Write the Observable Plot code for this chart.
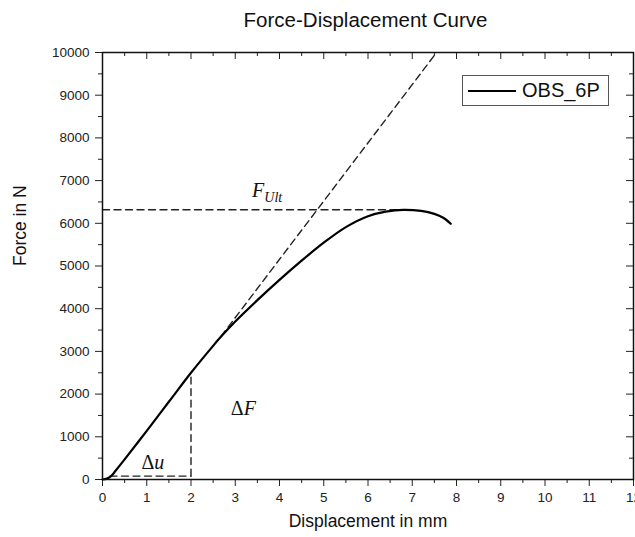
<!DOCTYPE html>
<html>
<head>
<meta charset="utf-8">
<script src="https://cdn.jsdelivr.net/npm/d3@7"></script>
<script src="https://cdn.jsdelivr.net/npm/@observablehq/plot@0.6"></script>
<style>
  html, body { margin: 0; padding: 0; background: #fff; }
  #wrap { position: relative; width: 635px; height: 537px; font-family: "Liberation Sans", Arial, sans-serif; }
  #title { height: 40px; line-height: 40px; padding-left: 100px; width: 531px; text-align: center; font-size: 20.5px; color: #111; }
  #legend { position: absolute; left: 462px; top: 75px; width: 147px; height: 31px; border: 1px solid #555; box-sizing: border-box; display: flex; align-items: center; }
  #legend .ln { width: 48px; height: 0; border-top: 2px solid #000; margin-left: 5px; margin-right: 6px; }
  #legend .tx { font-size: 20px; color: #111; }
</style>
</head>
<body>
<div id="wrap">
  <div id="title">Force-Displacement Curve</div>
  <div id="chart"></div>
  <div id="legend"><div class="ln"></div><div class="tx">OBS_6P</div></div>
</div>
<script>
// Curve data (Displacement in mm, Force in N)
const disp  = [0, 0.1, 0.2, 0.3, 0.5, 1.0, 1.5, 2.0, 2.5, 2.7, 3.0, 3.5, 4.0, 4.5, 5.0, 5.5, 6.0, 6.4, 6.8, 7.2, 7.5, 7.7, 7.87];
const force = [0, 20, 85, 210, 470, 1140, 1820, 2500, 3130, 3370, 3700, 4200, 4675, 5125, 5545, 5910, 6165, 6272, 6316, 6290, 6220, 6130, 5990];

// Construction lines
const tangentX = [2.68, 7.55];
const tangentY = [3354, 10000];
const ultX = [0, 6.8];
const ultY = [6316, 6316];
const duX = [0.17, 2.0];
const duY = [80, 80];
const dfX = [2.0, 2.0];
const dfY = [80, 2500];

// Annotation labels
const labelText = ["ΔF", "Δu", "F_Ult"];
const labelX = [2.9, 0.88, 3.38];
const labelY = [1660, 400, 6760];

// Ticks
const xMajor = [0,1,2,3,4,5,6,7,8,9,10,11,12];
const xMinor = [0.5,1.5,2.5,3.5,4.5,5.5,6.5,7.5,8.5,9.5,10.5,11.5];
const yMajor = [0,1000,2000,3000,4000,5000,6000,7000,8000,9000,10000];
const yMinor = [500,1500,2500,3500,4500,5500,6500,7500,8500,9500];

const xTitle = "Displacement in mm";
const yTitle = "Force in N";

const W = 635, H = 497, mT = 12, mB = 58, mL = 102, mR = 2;
const pH = H - mT - mB, pW = W - mL - mR;

const curve = disp.map((d, i) => ({x: d, y: force[i]}));
const pairs = (xs, ys) => xs.map((d, i) => ({x: d, y: ys[i]}));
const labels = labelText.map((t, i) => ({t, x: labelX[i], y: labelY[i]}));

const dash = {stroke: "#222", strokeWidth: 1.4, strokeDasharray: "7,4.5"};

const plot = Plot.plot({
  width: W, height: H,
  marginTop: mT, marginBottom: mB, marginLeft: mL, marginRight: mR,
  style: {fontFamily: "'Liberation Sans', Arial, sans-serif", color: "#222", background: "#fff", overflow: "visible"},
  x: {domain: [0, 12]},
  y: {domain: [0, 10000]},
  marks: [
    Plot.axisX({ticks: xMajor, tickSize: 7, tickPadding: 6, fontSize: 13.5, label: null, stroke: "#222"}),
    Plot.axisX(xMinor, {tickSize: 4, tickFormat: () => "", label: null, stroke: "#222"}),
    Plot.axisY({ticks: yMajor, tickSize: 7, tickPadding: 6, fontSize: 13.5, label: null, tickFormat: d => String(d), stroke: "#222"}),
    Plot.axisY(yMinor, {tickSize: 4, tickFormat: () => "", label: null, stroke: "#222"}),
    // top and right inward ticks
    Plot.tickX(xMajor, {x: d => d, insetBottom: pH - 7, stroke: "#222"}),
    Plot.tickX(xMinor, {x: d => d, insetBottom: pH - 4, stroke: "#222"}),
    Plot.tickY(yMajor, {y: d => d, insetLeft: pW - 7, stroke: "#222"}),
    Plot.tickY(yMinor, {y: d => d, insetLeft: pW - 4, stroke: "#222"}),
    Plot.line(pairs(tangentX, tangentY), {x: "x", y: "y", ...dash}),
    Plot.line(pairs(ultX, ultY), {x: "x", y: "y", ...dash}),
    Plot.line(pairs(duX, duY), {x: "x", y: "y", ...dash}),
    Plot.line(pairs(dfX, dfY), {x: "x", y: "y", ...dash}),
    Plot.line(curve, {x: "x", y: "y", stroke: "#000", strokeWidth: 2.2, curve: "catmull-rom"}),
    Plot.frame({stroke: "#111", strokeWidth: 1.5}),
    Plot.text(labels, {x: "x", y: "y", text: "t", textAnchor: "start", fontSize: 20, fontFamily: "'Liberation Serif', 'DejaVu Serif', serif", fill: "#111"}),
    Plot.text([xTitle], {text: d => d, frameAnchor: "bottom", dy: 47, fontSize: 17.5, fill: "#111"}),
    Plot.text([yTitle], {text: d => d, frameAnchor: "left", dx: -82, rotate: -90, fontSize: 17.5, fill: "#111"})
  ]
});

// Typeset math-style labels (italic variables, subscript)
d3.select(plot).selectAll("text").each(function() {
  const s = this.textContent;
  if (!labelText.includes(s)) return;
  const el = d3.select(this);
  el.text("");
  if (s.startsWith("Δ")) {
    el.append("tspan").text("Δ");
    el.append("tspan").attr("font-style", "italic").text(s.slice(1));
  } else if (s.includes("_")) {
    const [a, b] = s.split("_");
    el.append("tspan").attr("font-style", "italic").text(a);
    el.append("tspan").attr("font-style", "italic").attr("font-size", 14).attr("dy", 5).text(b);
  }
});

document.getElementById("chart").appendChild(plot);
</script>
</body>
</html>
